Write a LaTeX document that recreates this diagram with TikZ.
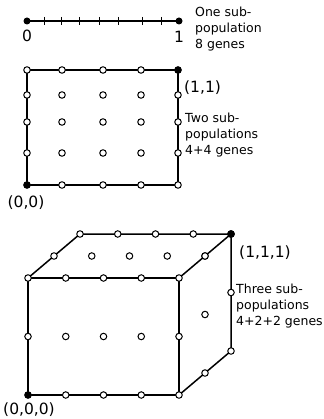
\documentclass[tikz,border=0pt]{standalone}
\usepackage{fontspec}
\setmainfont{DejaVu Sans}
\begin{document}
\begin{tikzpicture}[x=1pt,y=-1pt,
  edge/.style={line width=1.5pt},
  tick/.style={line width=1pt},
  odot/.style={circle,draw,fill=white,line width=1pt,inner sep=0pt,minimum size=6.5pt},
  fdot/.style={circle,fill=black,inner sep=0pt,minimum size=7pt},
  lbl/.style={font=\fontsize{12.5}{16}\selectfont,align=left,anchor=west,inner sep=0pt},
  crd/.style={font=\fontsize{15.5}{16}\selectfont,inner sep=0pt}]
\useasboundingbox (0,0) rectangle (323,419);

% ---- one sub-population: the unit interval with 8 genes
\coordinate (L0) at (27,21);
\coordinate (L1) at (179,21);
\draw[edge] (L0) -- (L1);
\foreach \x in {44,61,79,99,118,142,161}
  \draw[tick] (\x,17) -- (\x,25);
\node[fdot] (l0) at (L0) {};
\node[fdot] (l1) at (L1) {};
\node[crd] (t0) at (27,36) {0};
\node[crd] (t1) at (179,37) {1};
\node[lbl] (t2) at (195,29) {One sub-\\population\\8 genes};

% ---- two sub-populations: the unit square, 4+4 genes
\coordinate (S00) at (27,185);
\coordinate (S40) at (178,185);
\coordinate (S44) at (178,70);
\coordinate (S04) at (27,70);
\draw[edge] (S00) -- (S40) -- (S44) -- (S04) -- cycle;
\foreach \x [count=\i from 0] in {27,62,103,141,178}
  \foreach \y [count=\j from 0] in {185,153,122,95,70}
    \node[odot] (s-\i-\j) at (\x,\y) {};
\node[fdot] (s00) at (S00) {};
\node[fdot] (s44) at (S44) {};
\node[crd,anchor=west] (t3) at (184,88) {(1,1)};
\node[lbl] (t4) at (185,135) {Two sub-\\populations\\4+4 genes};
\node[crd] (t5) at (26,203) {(0,0)};

% ---- three sub-populations: the unit cube, 4+2+2 genes
% (i,j,k) -> x = 28 + 37.75 i + 26 k,  y = 395 - 58.5 j - 22 k
\coordinate (C000) at (28,395);
\coordinate (C400) at (179,395);
\coordinate (C420) at (179,278);
\coordinate (C020) at (28,278);
\coordinate (C022) at (80,234);
\coordinate (C422) at (231,234);
\coordinate (C402) at (231,351);
\draw[edge] (C000) -- (C400) -- (C420) -- (C020) -- cycle;
\draw[edge] (C020) -- (C022) -- (C422) -- (C420);
\draw[edge] (C400) -- (C402) -- (C422);
% front face
\foreach \i in {0,...,4}
  \foreach \j in {0,1,2}
    \node[odot] (f-\i-\j) at ({28+37.75*\i},{395-58.5*\j}) {};
% top face
\foreach \i in {0,...,4}
  \foreach \k in {1,2}
    \node[odot] (u-\i-\k) at ({28+37.75*\i+26*\k},{278-22*\k}) {};
% right face
\foreach \j in {0,1,2}
  \foreach \k in {1,2}
    \node[odot] (r-\j-\k) at ({179+26*\k},{395-58.5*\j-22*\k}) {};
\node[fdot] (c000) at (C000) {};
\node[fdot] (c422) at (C422) {};
\node[crd,anchor=west] (t6) at (239,253) {(1,1,1)};
\node[lbl] (t7) at (236,306) {Three sub-\\populations\\4+2+2 genes};
\node[crd] (t8) at (29,410) {(0,0,0)};
\end{tikzpicture}
\end{document}
